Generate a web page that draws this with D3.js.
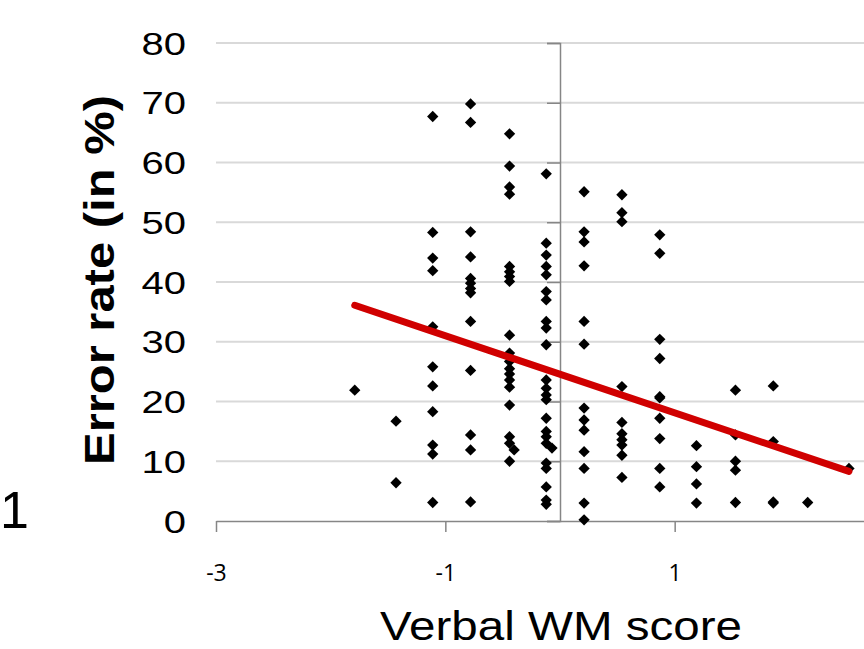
<!DOCTYPE html>
<html>
<head>
<meta charset="utf-8">
<script src="https://cdn.jsdelivr.net/npm/d3@7"></script>
<style>
  body { margin: 0; background: #fff; }
  svg { display: block; font-family: "Liberation Sans", Arial, sans-serif; }
</style>
</head>
<body>
<div id="chart"></div>
<script>
// data
var wmScore = [
  -1.79,
  -1.43, -1.43,
  -1.11, -1.11, -1.11, -1.11, -1.11, -1.11, -1.11, -1.11, -1.11, -1.11, -1.11,
  -0.78, -0.78, -0.78, -0.78, -0.78, -0.78, -0.78, -0.78, -0.78, -0.78, -0.78, -0.78, -0.78,
  -0.44, -0.44, -0.44, -0.44, -0.44, -0.44, -0.44, -0.44, -0.44, -0.44, -0.44, -0.44, -0.44, -0.44, -0.44, -0.44, -0.44, -0.44, -0.40, -0.44,
  -0.12, -0.12, -0.12, -0.12, -0.12, -0.12, -0.12, -0.12, -0.12, -0.12, -0.12, -0.12, -0.12, -0.12, -0.12, -0.12, -0.12, -0.12, -0.07, -0.12, -0.12, -0.12, -0.12, -0.12,
  0.21, 0.21, 0.21, 0.21, 0.21, 0.21, 0.21, 0.21, 0.21, 0.21, 0.21, 0.21, 0.21,
  0.54, 0.54, 0.54, 0.54, 0.54, 0.54, 0.54, 0.54, 0.54, 0.54,
  0.87, 0.87, 0.87, 0.87, 0.87, 0.87, 0.87, 0.87, 0.87, 0.87,
  1.19, 1.19, 1.19, 1.19,
  1.53, 1.53, 1.53, 1.53, 1.53,
  1.86, 1.86, 1.86, 1.86,
  2.16,
  2.52
];
var errorRate = [
  21.9,
  16.7, 6.4,
  67.7, 48.3, 44.0, 41.9, 32.5, 25.8, 22.6, 18.3, 12.7, 11.2, 3.1,
  69.8, 66.7, 48.4, 44.2, 40.6, 39.8, 38.9, 38.2, 33.4, 25.2, 14.4, 11.9, 3.2,
  64.8, 59.4, 55.9, 54.7, 42.6, 41.7, 40.9, 40.1, 31.1, 28.1, 26.7, 25.5, 24.6, 23.6, 22.4, 19.4, 14.1, 13.0, 11.9, 10.0,
  58.1, 46.5, 44.5, 42.6, 41.2, 38.4, 37.0, 33.4, 32.3, 29.5, 23.6, 22.2, 21.1, 20.3, 17.2, 15.0, 14.1, 13.0, 12.2, 9.7, 8.8, 5.7, 3.5, 2.8,
  55.1, 48.4, 46.7, 42.7, 33.4, 29.6, 18.9, 16.9, 15.2, 11.6, 8.8, 3.0, 0.2,
  54.6, 51.6, 50.1, 22.5, 16.5, 14.6, 13.6, 12.7, 11.0, 7.3,
  47.9, 44.8, 30.4, 27.2, 20.8, 20.6, 17.2, 13.8, 8.8, 5.7,
  12.6, 9.1, 6.2, 3.0,
  21.9, 14.4, 10.0, 8.5, 3.1,
  22.6, 13.3, 3.2, 3.0,
  3.1,
  8.8
];
// linear trend line end points
var trendX = [-1.79, 2.52];
var trendY = [36.1, 8.3];

var xTicks = [-3, -1, 1];
var yTicks = [0, 10, 20, 30, 40, 50, 60, 70, 80];

var width = 864, height = 649;

var x = d3.scaleLinear().domain([-3, 3]).range([216, 904]);
var y = d3.scaleLinear().domain([0, 80]).range([521, 43]);

var svg = d3.select('#chart').append('svg')
    .attr('width', width)
    .attr('height', height);

// horizontal gridlines
svg.append('g')
    .selectAll('line')
    .data(yTicks.slice(1))
    .enter().append('line')
    .attr('x1', x(-3))
    .attr('x2', x(3))
    .attr('y1', d => y(d))
    .attr('y2', d => y(d))
    .attr('stroke', '#d9d9d9')
    .attr('stroke-width', 2);

// y axis sits on x = 0
var yAxis = svg.append('g')
    .attr('transform', 'translate(' + x(0) + ',0)')
    .call(d3.axisLeft(y).tickValues(yTicks).tickSize(13).tickFormat(''));
yAxis.select('.domain').attr('stroke', '#868686').attr('stroke-width', 1.5);
yAxis.selectAll('.tick line').attr('stroke', '#868686').attr('stroke-width', 1.5);

// y tick labels at the left of the plot area (a little wide, like the original)
svg.append('g')
    .selectAll('text')
    .data(yTicks)
    .enter().append('text')
    .attr('transform', d => 'translate(186,' + y(d) + ') scale(1.25,1)')
    .attr('dy', '0.36em')
    .attr('text-anchor', 'end')
    .attr('font-size', 32)
    .attr('fill', '#000')
    .text(d => d);

// x axis
var xAxis = svg.append('g')
    .attr('transform', 'translate(0,' + y(0) + ')')
    .call(d3.axisBottom(x).tickValues(xTicks).tickSize(11).tickPadding(33)
        .tickSizeOuter(0).tickFormat(d => String(d)));
xAxis.select('.domain').attr('stroke', '#868686').attr('stroke-width', 1.5);
xAxis.selectAll('.tick line').attr('stroke', '#868686').attr('stroke-width', 1.5);
xAxis.selectAll('.tick text')
    .attr('font-size', 23)
    .attr('font-family', '"Open Sans", "Liberation Sans", sans-serif')
    .attr('fill', '#000');

// points
var diamond = d3.symbol().type(d3.symbolSquare).size(64);
svg.append('g')
    .selectAll('path')
    .data(wmScore.map((d, i) => [d, errorRate[i]]))
    .enter().append('path')
    .attr('d', diamond)
    .attr('transform', d => 'translate(' + x(d[0]) + ',' + y(d[1]) + ') rotate(45)')
    .attr('fill', '#000');

// trend line
svg.append('line')
    .attr('x1', x(trendX[0]))
    .attr('y1', y(trendY[0]))
    .attr('x2', x(trendX[1]))
    .attr('y2', y(trendY[1]))
    .attr('stroke', '#d00000')
    .attr('stroke-width', 7)
    .attr('stroke-linecap', 'round');

// axis titles
svg.append('text')
    .attr('x', 561)
    .attr('y', 640)
    .attr('text-anchor', 'middle')
    .attr('font-size', 40)
    .attr('textLength', 362)
    .attr('lengthAdjust', 'spacingAndGlyphs')
    .attr('fill', '#000')
    .text('Verbal WM score');

svg.append('text')
    .attr('transform', 'translate(114,280) rotate(-90)')
    .attr('text-anchor', 'middle')
    .attr('font-size', 42)
    .attr('font-weight', 'bold')
    .attr('textLength', 370)
    .attr('lengthAdjust', 'spacingAndGlyphs')
    .attr('fill', '#000')
    .text('Error rate (in %)');

// edge of the neighbouring chart
svg.append('text')
    .attr('x', 0)
    .attr('y', 528)
    .attr('font-size', 52)
    .attr('fill', '#000')
    .text('1');
</script>
</body>
</html>
